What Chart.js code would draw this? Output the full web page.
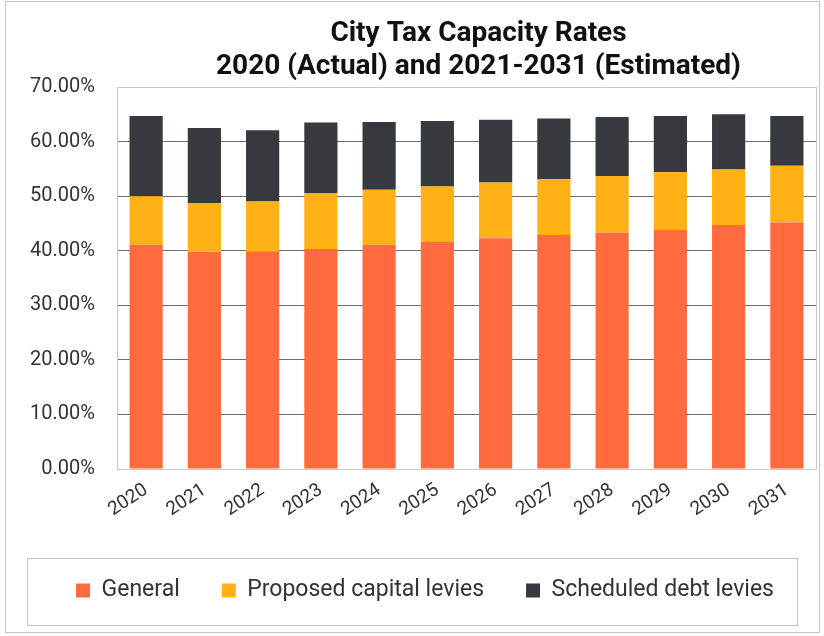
<!DOCTYPE html>
<html>
<head>
<meta charset="utf-8">
<script src="https://cdn.jsdelivr.net/npm/chart.js@4.4.1/dist/chart.umd.min.js"></script>
<style>
  html, body { margin: 0; padding: 0; background: #ffffff; }
  #wrap { position: absolute; left: 0; top: 0; width: 824px; height: 636px; }
</style>
</head>
<body>
<div id="wrap"><canvas id="c" width="824" height="636"></canvas></div>
<script>
const years = ['2020','2021','2022','2023','2024','2025','2026','2027','2028','2029','2030','2031'];
const general = [41.1, 39.8, 39.9, 40.3, 41.1, 41.7, 42.3, 42.9, 43.3, 43.9, 44.7, 45.2];
const proposedCapital = [8.9, 8.95, 9.15, 10.3, 10.1, 10.1, 10.2, 10.2, 10.4, 10.5, 10.2, 10.4];
const scheduledDebt = [14.7, 13.75, 13.05, 12.9, 12.4, 12.0, 11.5, 11.15, 10.8, 10.3, 10.1, 9.1];
const yTicks = [0, 10, 20, 30, 40, 50, 60, 70];
const seriesNames = ['General', 'Proposed capital levies', 'Scheduled debt levies'];
const titleLines = ['City Tax Capacity Rates', '2020 (Actual) and 2021-2031 (Estimated)'];

const FONT = 'Roboto, "Liberation Sans", sans-serif';

const framePlugin = {
  id: 'frame',
  beforeDraw(chart) {
    const ctx = chart.ctx;
    ctx.save();
    ctx.fillStyle = '#ffffff';
    ctx.fillRect(0, 0, chart.width, chart.height);
    ctx.strokeStyle = '#c4c4c4';
    ctx.lineWidth = 1;
    ctx.strokeRect(5.5, 1.5, 814, 631);
    ctx.restore();
  },
  afterLayout(chart) {
    const tb = chart.titleBlock;
    const ca = chart.chartArea;
    if (tb && ca) {
      const shift = 12;
      tb.left = ca.left + shift;
      tb.right = ca.right + shift;
    }
    const lg = chart.legend;
    if (lg) {
      lg.left += 12;
      lg.right += 12;
    }
  },
  afterDraw(chart) {
    const ctx = chart.ctx;
    const ca = chart.chartArea;
    ctx.save();
    ctx.strokeStyle = '#c8c8c8';
    ctx.lineWidth = 1;
    ctx.strokeRect(Math.round(ca.left) + 0.5, Math.round(ca.top) + 0.5,
                   Math.round(ca.right - ca.left), Math.round(ca.bottom - ca.top));
    const lg = chart.legend;
    if (lg && lg.legendHitBoxes && lg.legendHitBoxes.length) {
      const hb = lg.legendHitBoxes[0];
      const cy = hb.top + hb.height / 2;
      const l = 27, r = chart.width - 27;
      const t = cy - 33, b = cy + 34;
      ctx.strokeStyle = '#c4c4c4';
      ctx.strokeRect(l + 0.5, Math.round(t) + 0.5, r - l, Math.round(b - t));
    }
    ctx.restore();
  }
};

const colors = ['#ff6b3f', '#ffb115', '#36393e'];
const values = [general, proposedCapital, scheduledDebt];

new Chart(document.getElementById('c'), {
  type: 'bar',
  data: {
    labels: years,
    datasets: seriesNames.map((name, i) => ({
      label: name,
      data: values[i],
      backgroundColor: colors[i],
      borderWidth: 0,
      categoryPercentage: 1.0,
      barPercentage: 0.57
    }))
  },
  options: {
    responsive: false,
    animation: false,
    devicePixelRatio: 1,
    layout: { padding: { left: 10, right: 8, top: 14, bottom: 24 } },
    plugins: {
      tooltip: { enabled: false },
      title: {
        display: true,
        text: titleLines,
        color: '#111111',
        font: { family: FONT, size: 28, weight: 'bold', lineHeight: 1.18 },
        padding: { top: 3, bottom: 4 }
      },
      legend: {
        position: 'bottom',
        labels: {
          color: '#333333',
          font: { family: FONT, size: 23 },
          boxWidth: 14,
          boxHeight: 14,
          padding: 42
        }
      }
    },
    scales: {
      x: {
        stacked: true,
        grid: { display: false, drawTicks: false },
        border: { display: true, color: '#c8c8c8' },
        ticks: {
          color: '#333333',
          font: { family: FONT, size: 19 },
          minRotation: 33,
          maxRotation: 33,
          padding: 10
        },
        afterFit(scale) { scale.height = 68; }
      },
      y: {
        stacked: true,
        min: 0,
        max: 70,
        afterBuildTicks(scale) { scale.ticks = yTicks.map(v => ({ value: v })); },
        grid: {
          drawTicks: false,
          color: (ctx) => (ctx.tick && ctx.tick.value === 70 ? '#c8c8c8' : '#6f6f6f'),
          lineWidth: 1
        },
        border: { display: true, color: '#c8c8c8' },
        ticks: {
          color: '#333333',
          font: { family: FONT, size: 20 },
          padding: 22,
          callback: (v) => Number(v).toFixed(2) + '%'
        },
        afterFit(scale) { scale.width = 107; }
      }
    }
  },
  plugins: [framePlugin]
});
</script>
</body>
</html>
